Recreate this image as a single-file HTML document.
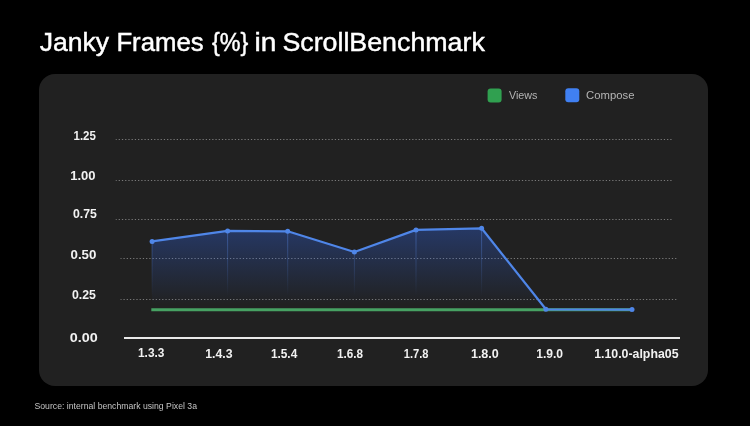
<!DOCTYPE html>
<html><head><meta charset="utf-8">
<style>
html,body{margin:0;padding:0;background:#000;}
body{width:750px;height:426px;overflow:hidden;position:relative;font-family:"Liberation Sans",sans-serif;}
svg{position:absolute;left:0;top:0;will-change:transform;}
text{font-family:"Liberation Sans",sans-serif;}
</style></head>
<body>
<svg width="750" height="426" viewBox="0 0 750 426">
<defs>
<linearGradient id="fill" gradientUnits="userSpaceOnUse" x1="0" y1="228" x2="0" y2="305">
<stop offset="0" stop-color="#3068f0" stop-opacity="0.33"/>
<stop offset="1" stop-color="#3068f0" stop-opacity="0.0"/>
</linearGradient>
<linearGradient id="drop" gradientUnits="userSpaceOnUse" x1="0" y1="228" x2="0" y2="296">
<stop offset="0" stop-color="#5b8ef0" stop-opacity="0.45"/>
<stop offset="1" stop-color="#5b8ef0" stop-opacity="0"/>
</linearGradient>
</defs>
<rect x="39" y="74" width="669" height="312" rx="16" ry="16" fill="#212121"/>
<rect x="487.6" y="88.4" width="14" height="14" rx="3" fill="#30a050"/>
<rect x="565.3" y="88.3" width="14" height="14" rx="3" fill="#4080f2"/>
<g stroke="#7a7a7a" stroke-width="1" stroke-dasharray="1.25 1.9758" stroke-dashoffset="0.3">
<line x1="115.75" y1="139.5" x2="672.5" y2="139.5"/>
<line x1="115.75" y1="180.5" x2="672.5" y2="180.5"/>
<line x1="115.75" y1="219.5" x2="672.5" y2="219.5"/>
<line x1="120.55" y1="258.5" x2="677.5" y2="258.5"/>
<line x1="120.55" y1="299.5" x2="677.5" y2="299.5"/>
</g>
<polygon points="152,241.3 227.6,230.9 287.7,231.3 354.4,252 416,229.9 481.6,228.3 545.9,308.9 632,309.4 632,310 152,310" fill="url(#fill)"/>
<g stroke="url(#drop)" stroke-width="1">
<line x1="152" y1="241" x2="152" y2="304"/>
<line x1="227.6" y1="231" x2="227.6" y2="304"/>
<line x1="287.7" y1="231" x2="287.7" y2="304"/>
<line x1="354.4" y1="252" x2="354.4" y2="304"/>
<line x1="416" y1="230" x2="416" y2="304"/>
<line x1="481.6" y1="228" x2="481.6" y2="304"/>
</g>
<rect x="124" y="337" width="556" height="2" fill="#e8e8e8"/>
<line x1="151.3" y1="309.8" x2="632" y2="309.8" stroke="#47a263" stroke-width="3"/>
<polyline points="152,241.3 227.6,230.9 287.7,231.3 354.4,252 416,229.9 481.6,228.3 545.9,309.3 632,309.6" fill="none" stroke="#4f86e8" stroke-width="2.2" stroke-linejoin="round"/>
<g fill="#4f86e8">
<circle cx="152.1" cy="241.4" r="2.5"/>
<circle cx="227.6" cy="230.9" r="2.5"/>
<circle cx="287.7" cy="231.3" r="2.5"/>
<circle cx="354.4" cy="252" r="2.5"/>
<circle cx="416" cy="229.9" r="2.5"/>
<circle cx="481.6" cy="228.3" r="2.5"/>
<circle cx="545.9" cy="309.3" r="2.5"/>
<circle cx="632" cy="309.6" r="2.5"/>
</g>
<text x="39.74" y="51.20" font-size="26" fill="#ffffff" stroke="#ffffff" stroke-width="0.45" textLength="69.40" lengthAdjust="spacingAndGlyphs">Janky</text>
<text x="116.40" y="51.20" font-size="26" fill="#ffffff" stroke="#ffffff" stroke-width="0.45" textLength="87.27" lengthAdjust="spacingAndGlyphs">Frames</text>
<text x="212.00" y="51.20" font-size="26" fill="#ffffff" stroke="#ffffff" stroke-width="0.45" textLength="36.36" lengthAdjust="spacingAndGlyphs">{%}</text>
<text x="254.40" y="51.20" font-size="26" fill="#ffffff" stroke="#ffffff" stroke-width="0.45" textLength="21.88" lengthAdjust="spacingAndGlyphs">in</text>
<text x="282.40" y="51.20" font-size="26" fill="#ffffff" stroke="#ffffff" stroke-width="0.45" textLength="202.41" lengthAdjust="spacingAndGlyphs">ScrollBenchmark</text>
<text x="509.00" y="99.20" font-size="11" fill="#b4b4b4" textLength="28.46" lengthAdjust="spacingAndGlyphs">Views</text>
<text x="586.12" y="99.20" font-size="11" fill="#b4b4b4" textLength="48.30" lengthAdjust="spacingAndGlyphs">Compose</text>
<text x="73.56" y="140.16" font-size="12" font-weight="bold" fill="#f2f2f2" textLength="22.34" lengthAdjust="spacingAndGlyphs">1.25</text>
<text x="70.20" y="179.50" font-size="12" font-weight="bold" fill="#f2f2f2" textLength="25.38" lengthAdjust="spacingAndGlyphs">1.00</text>
<text x="73.00" y="218.34" font-size="12" font-weight="bold" fill="#f2f2f2" textLength="23.86" lengthAdjust="spacingAndGlyphs">0.75</text>
<text x="70.56" y="258.60" font-size="12" font-weight="bold" fill="#f2f2f2" textLength="25.86" lengthAdjust="spacingAndGlyphs">0.50</text>
<text x="72.00" y="299.04" font-size="12" font-weight="bold" fill="#f2f2f2" textLength="23.94" lengthAdjust="spacingAndGlyphs">0.25</text>
<text x="69.74" y="341.50" font-size="12" font-weight="bold" fill="#f2f2f2" textLength="27.94" lengthAdjust="spacingAndGlyphs">0.00</text>
<text x="138.00" y="356.90" font-size="12.5" font-weight="bold" fill="#f2f2f2" textLength="26.44" lengthAdjust="spacingAndGlyphs">1.3.3</text>
<text x="205.22" y="357.90" font-size="12.5" font-weight="bold" fill="#f2f2f2" textLength="27.32" lengthAdjust="spacingAndGlyphs">1.4.3</text>
<text x="270.90" y="357.90" font-size="12.5" font-weight="bold" fill="#f2f2f2" textLength="26.36" lengthAdjust="spacingAndGlyphs">1.5.4</text>
<text x="337.10" y="357.90" font-size="12.5" font-weight="bold" fill="#f2f2f2" textLength="26.04" lengthAdjust="spacingAndGlyphs">1.6.8</text>
<text x="403.78" y="357.90" font-size="12.5" font-weight="bold" fill="#f2f2f2" textLength="24.76" lengthAdjust="spacingAndGlyphs">1.7.8</text>
<text x="470.90" y="357.90" font-size="12.5" font-weight="bold" fill="#f2f2f2" textLength="27.96" lengthAdjust="spacingAndGlyphs">1.8.0</text>
<text x="536.26" y="357.90" font-size="12.5" font-weight="bold" fill="#f2f2f2" textLength="26.84" lengthAdjust="spacingAndGlyphs">1.9.0</text>
<text x="594.20" y="357.90" font-size="12.5" font-weight="bold" fill="#f2f2f2" textLength="84.30" lengthAdjust="spacingAndGlyphs">1.10.0-alpha05</text>
<text x="34.50" y="408.90" font-size="9.5" fill="#c4c4c4" textLength="162.46" lengthAdjust="spacingAndGlyphs">Source: internal benchmark using Pixel 3a</text>
</svg>
</body></html>
